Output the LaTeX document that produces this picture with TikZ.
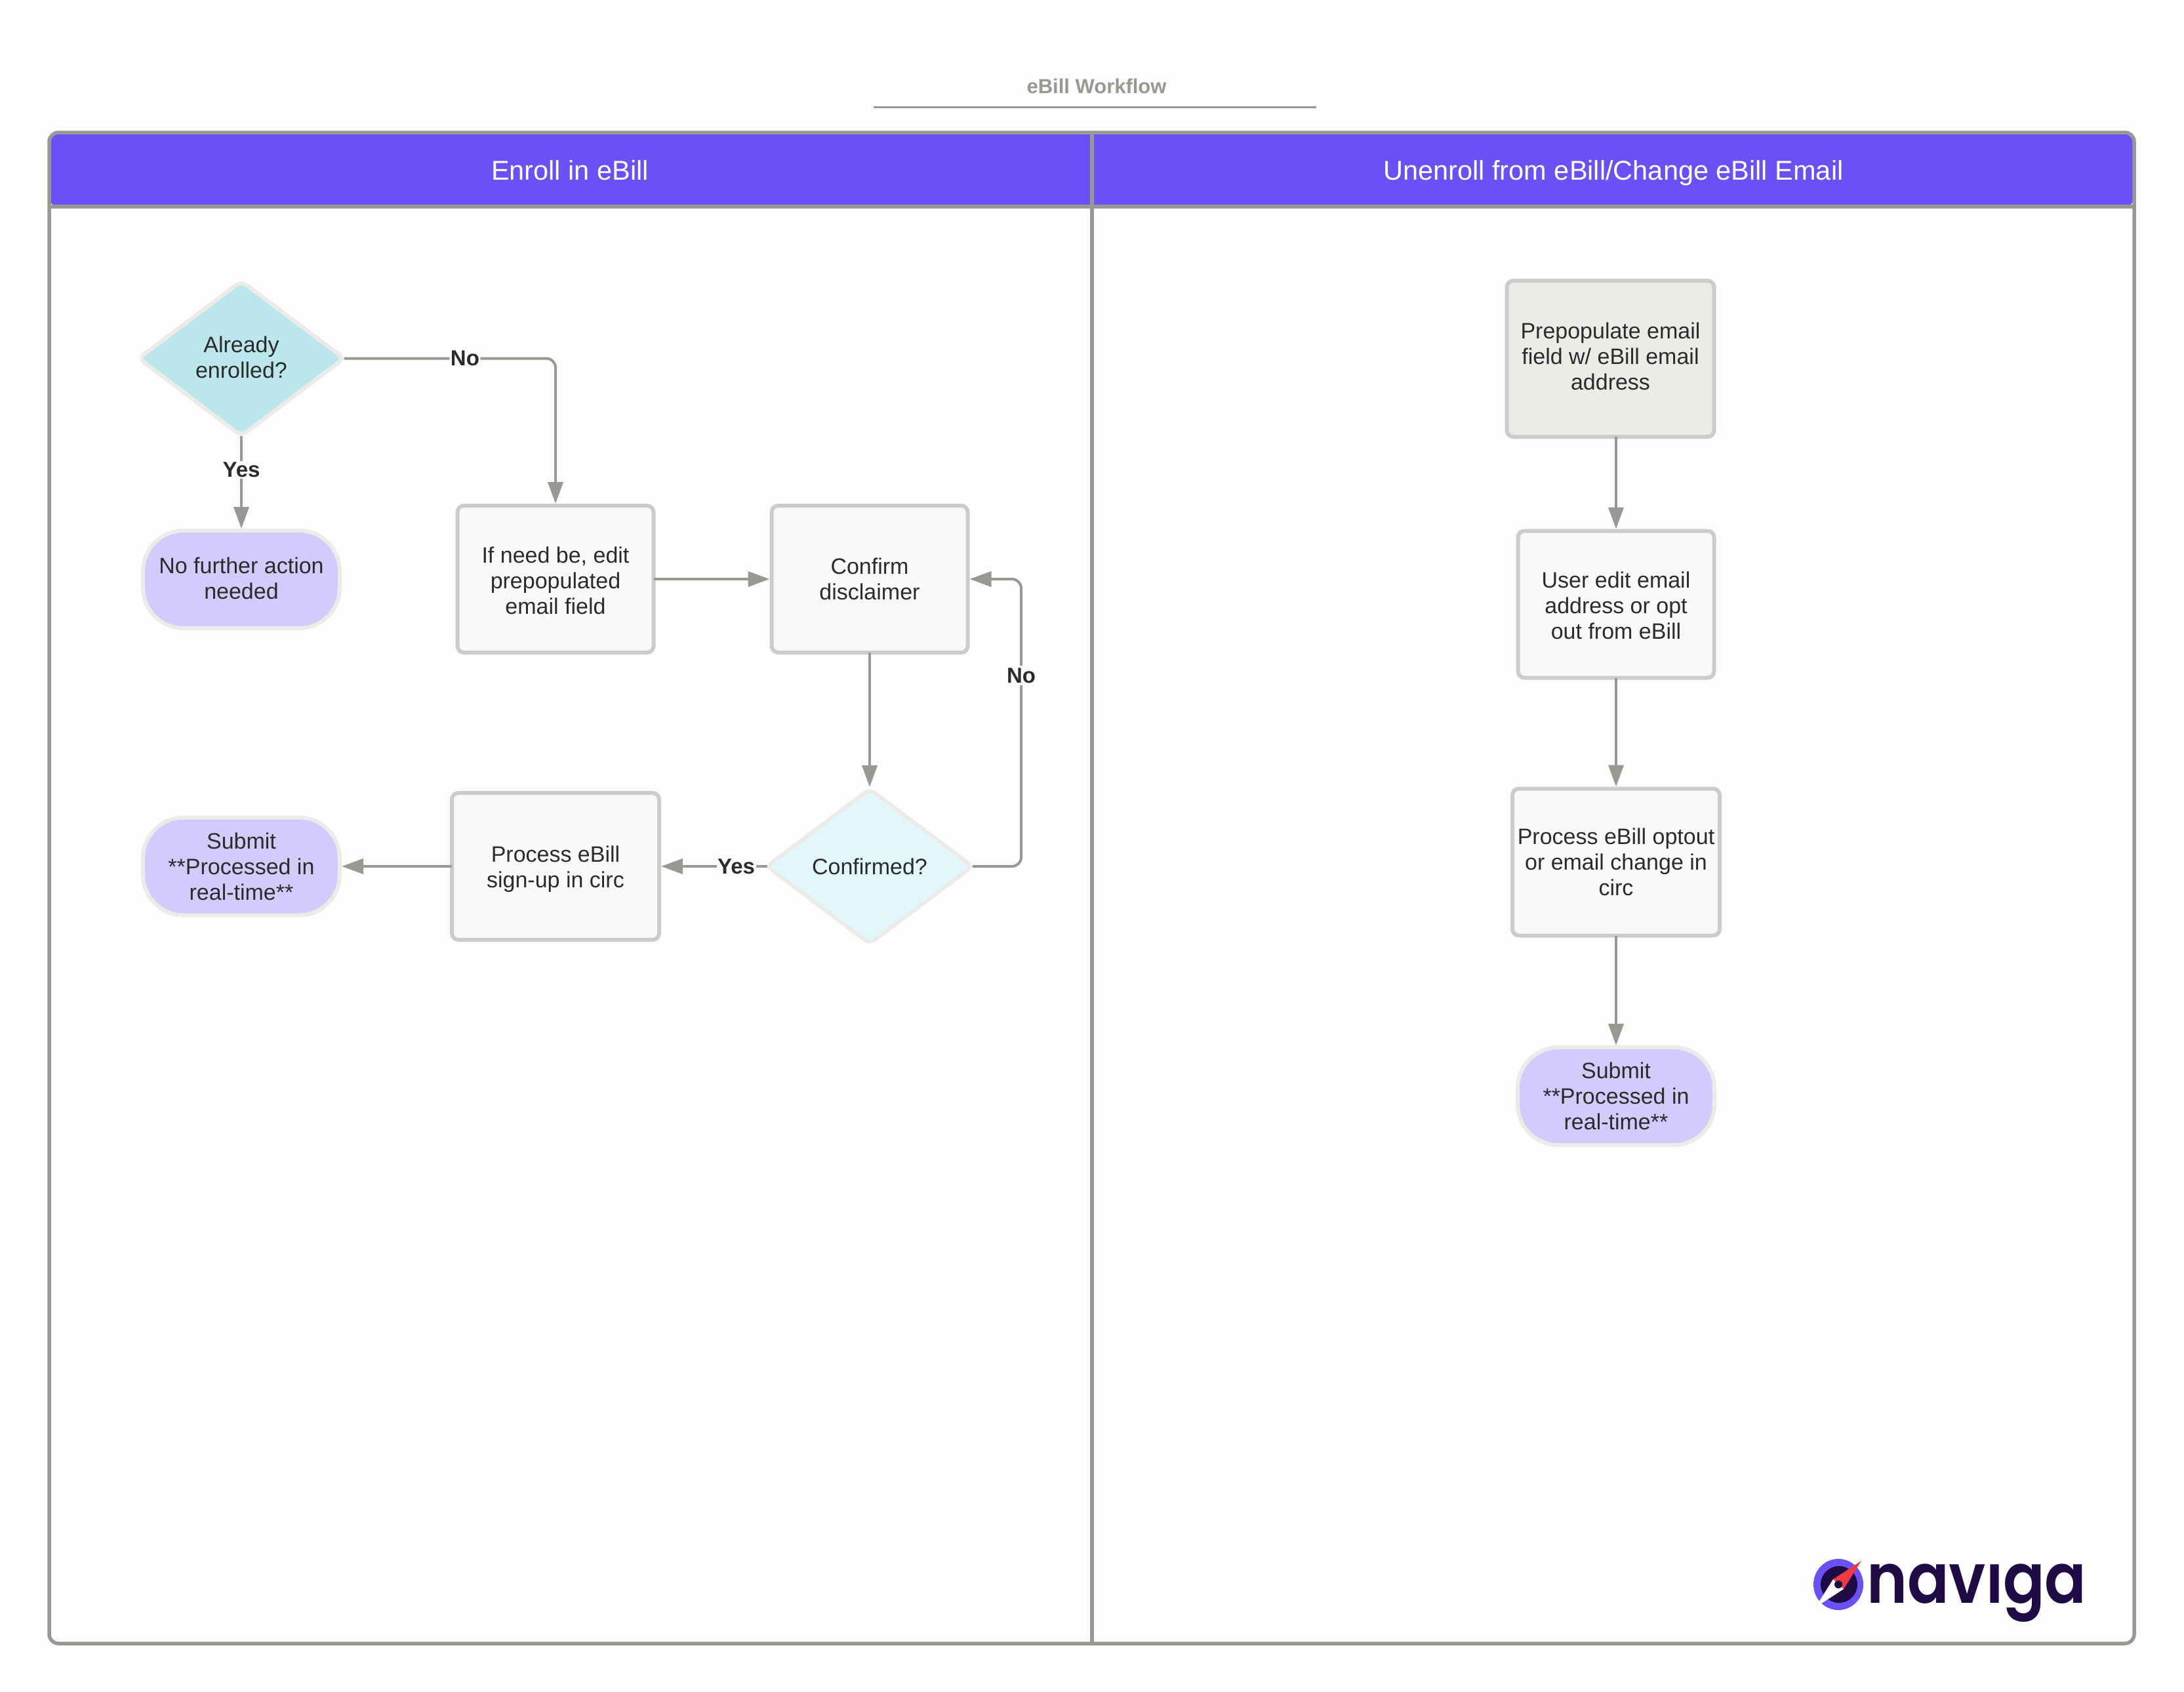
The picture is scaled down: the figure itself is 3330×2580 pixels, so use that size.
\documentclass[tikz,border=0pt]{standalone}
\usepackage{fontspec}
\usepackage{graphicx}
\setmainfont{Liberation Sans}
\newfontfamily\logofont{Poppins SemiBold}
\usetikzlibrary{arrows.meta,shapes.geometric,calc}
\definecolor{bgc}{HTML}{FDFDFD}
\definecolor{frame}{HTML}{999893}
\definecolor{hdr}{HTML}{6A51F6}
\definecolor{boxline}{HTML}{CCCCCB}
\definecolor{boxfill}{HTML}{F9F9F8}
\definecolor{boxfillb}{HTML}{ECEBE7}
\definecolor{softline}{HTML}{ECEBE8}
\definecolor{termfill}{HTML}{D3CBFC}
\definecolor{diaa}{HTML}{BBE7EC}
\definecolor{diab}{HTML}{E2F7FB}
\definecolor{ink}{HTML}{2B2B2B}
\definecolor{logoink}{HTML}{1F0A45}
\definecolor{logored}{HTML}{EE3B42}
\newcommand\nudgedown[1]{\rule{0pt}{#1}}
\newcommand\nudgeup[1]{\rule[-#1]{0pt}{0pt}}
\tikzset{
  base/.style={align=center,text=ink,font=\fontsize{34}{39}\selectfont,inner sep=0pt,outer sep=0pt},
  procbox/.style={base,rectangle,draw=boxline,fill=boxfill,line width=6pt,rounded corners=10pt},
  term/.style={base,rectangle,draw=softline,fill=termfill,line width=6pt,rounded corners=62pt,minimum width=300pt,minimum height=149pt},
  dec/.style={base,diamond,draw=softline,line width=6pt,rounded corners=10pt,minimum width=313pt,minimum height=236pt,shape aspect=1.33},
  conn/.style={draw=frame,line width=4pt,shorten >=3pt,-{Triangle[length=33pt,width=23pt]}},
  lab/.style={base,fill=bgc,font=\fontsize{33}{39}\selectfont\bfseries,inner xsep=1.5pt,inner ysep=2pt},
  lane/.style={text=white,font=\fontsize{41.5}{48}\selectfont,inner sep=0pt,text height=30pt,text depth=0pt},
}
\begin{document}
\begin{tikzpicture}[x=1pt,y=-1pt]
\fill[bgc] (0,0) rectangle (3330,2580);
\useasboundingbox (0,0) rectangle (3330,2580);
% title
\node[font=\fontsize{31}{36}\selectfont\bfseries,text=frame,inner sep=0pt] (title) at (1672,131) {eBill Workflow};
\coordinate (ula) at (1332,163);
\coordinate (ulb) at (2007,163);
\draw[frame,line width=3pt] (ula) -- (ulb);
% lanes
\fill[hdr,rounded corners=14pt] (75,315) -- (75,202) -- (3254,202) -- (3254,315) -- cycle;
\draw[frame,line width=5.5pt,rounded corners=14pt] (75,202) rectangle (3254,2506);
\draw[frame,line width=5.5pt] (75,315) -- (3254,315);
\draw[frame,line width=5.5pt] (1665,202) -- (1665,2506);
\node[lane] (h1) at (869,259) {Enroll in eBill};
\node[lane] (h2) at (2460,259) {Unenroll from eBill/Change eBill Email};
% left lane
\node[dec,fill=diaa] (d1) at (368,546.5) {Already\\enrolled?\nudgeup{4pt}};
\node[term] (t1) at (368,883.5) {No further action\\needed\nudgeup{4pt}};
\node[procbox,minimum width=299pt,minimum height=224pt] (b1) at (847,883) {\nudgedown{29pt}If need be, edit\\prepopulated\\email field};
\node[procbox,minimum width=299pt,minimum height=224pt] (b2) at (1326,883) {Confirm\\disclaimer};
\node[dec,fill=diab] (d2) at (1326,1321) {Confirmed?};
\node[procbox,minimum width=316pt,minimum height=224pt] (b3) at (847,1321) {\nudgedown{33pt}Process eBill\\sign-up in circ};
\node[term] (t2) at (368,1321) {Submit\\**Processed in\\real-time**};
% right lane
\node[procbox,fill=boxfillb,minimum width=316pt,minimum height=238pt] (r1) at (2455.5,547) {Prepopulate email\\field w/ eBill email\\address\nudgeup{8pt}};
\node[procbox,minimum width=299pt,minimum height=224pt] (r2) at (2464,921.5) {\nudgedown{29pt}User edit email\\address or opt\\out from eBill};
\node[procbox,minimum width=316pt,minimum height=224pt] (r3) at (2464,1314.5) {Process eBill optout\\or email change in\\circ};
\node[term] (r4) at (2464,1671.5) {Submit\\**Processed in\\real-time**};
% connectors
\draw[conn,rounded corners=14pt] (d1.east) -| (b1.north) node[lab,pos=0.286] (ln1) {No};
\draw[conn] (d1.south) -- (t1.north) node[lab,pos=0.36] (ly1) {Yes};
\draw[conn] (b1.east) -- (b2.west);
\draw[conn] (b2.south) -- (d2.north);
\coordinate (rt) at (1557,883);
\draw[conn,rounded corners=14pt] (d2.east) -| (rt) -- (b2.east);
\node[lab,inner ysep=3pt] (ln2) at (1557,1030) {No};
\draw[conn] (d2.west) -- (b3.east) node[lab,pos=0.285] (ly2) {Yes};
\draw[conn] (b3.west) -- (t2.east);
\draw[conn] (r1.south -| r2.north) -- (r2.north);
\draw[conn] (r2.south) -- (r3.north);
\draw[conn] (r3.south) -- (r4.north);
% logo
\fill[hdr] (2803,2416) ellipse [x radius=38,y radius=39];
\fill[logoink] (2804,2416) ellipse [x radius=28,y radius=28];
\fill[logored] (2838,2380) -- (2795,2408) -- (2811,2423) -- cycle;
\fill[boxfill] (2768,2451) -- (2795,2408) -- (2811,2423) -- cycle;
\fill[logoink] (2803,2416) circle (6);
\node[anchor=base west,inner sep=0pt,text=logoink,font=\logofont\fontsize{106}{110}\selectfont] (logo) at (2846,2444) {\scalebox{0.885}[1]{naviga}};
\fill[bgc] (3020,2345) rectangle (3063,2383);
\end{tikzpicture}
\end{document}
